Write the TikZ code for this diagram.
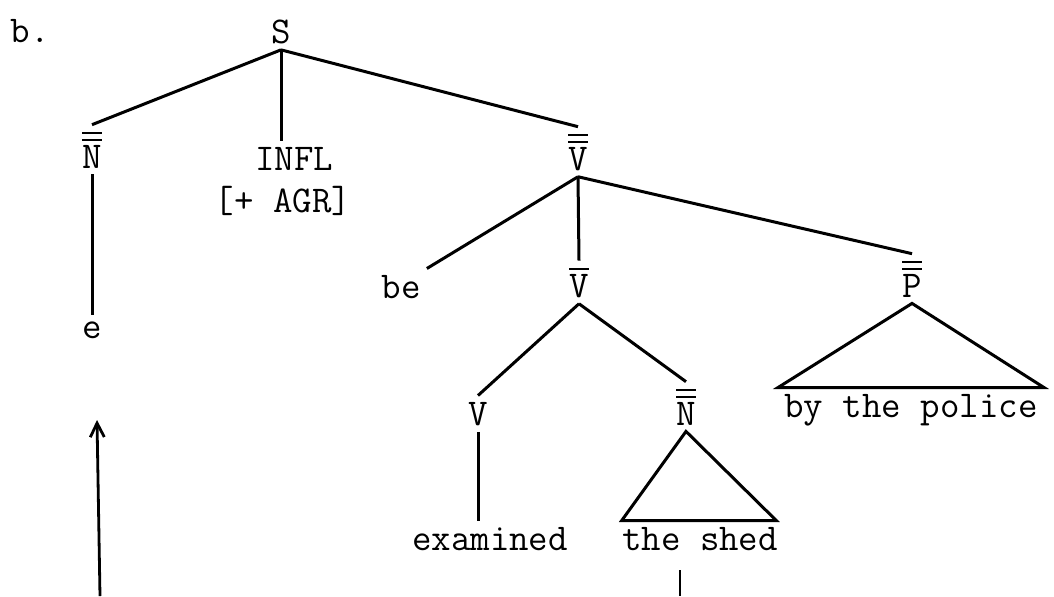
\documentclass[tikz,border=0pt]{standalone}
\usepackage{amsmath}
\usetikzlibrary{arrows.meta}

% bar levels over a category label
\newcommand{\barone}[1]{$\overline{\mbox{#1}}$}
\newcommand{\bartwo}[1]{$\overline{\overline{\mbox{#1}}}$}

\tikzset{
    cat/.style={anchor=base, inner sep=3pt, font=\ttfamily\fontsize{18.9}{22}\selectfont},
    branch/.style={line width=1.5pt},
}

\begin{document}
\begin{tikzpicture}[x=0.5pt, y=-0.5pt]
    \useasboundingbox (0,0) rectangle (1054,596);

    % Example label
    \node[cat] (lbl) at (30,42) {b.};

    % Top level
    \node[cat] (S) at (281,43) {S};
    \node[cat] (Nsubj) at (92,168) {\bartwo{N}};
    \node[cat] (infl) at (294,170) {INFL};
    \node[cat] (agr) at (283,212) {[+ AGR]};
    \node[cat] (VP) at (578,170) {\bartwo{V}};
    \draw[branch] (S.south) -- (Nsubj.north);
    \draw[branch] (S.south) -- (S.south |- infl.north);
    \draw[branch] (S.south) -- (VP.north);

    % Empty subject
    \node[cat] (e) at (92,338) {e};
    \draw[branch] (Nsubj.south) -- (e.north);

    % Verb phrase
    \node[cat] (be) at (401,298) {be};
    \node[cat] (Vbar) at (579,297) {\barone{V}};
    \node[cat] (PP) at (912,297) {\bartwo{P}};
    \draw[branch] (VP.south) -- (be.north east);
    \draw[branch] (VP.south) -- (Vbar.north);
    \draw[branch] (VP.south) -- (PP.north);

    % By-phrase (triangle)
    \node[cat] (police) at (911,417) {by the police};
    \draw[branch] (PP.south) -- (police.north west) -- (police.north east) -- cycle;

    % V-bar
    \node[cat] (V) at (478,425) {V};
    \node[cat] (Nobj) at (686,425) {\bartwo{N}};
    \draw[branch] (Vbar.south) -- (V.north);
    \draw[branch] (Vbar.south) -- (Nobj.north);

    \node[cat] (examined) at (490,550) {examined};
    \draw[branch] (V.south) -- (V.south |- examined.north);

    \node[cat] (shed) at (700,550) {the shed};
    \draw[branch] (Nobj.south) -- ([xshift=3pt]shed.north west) -- ([xshift=-4pt]shed.north east) -- cycle;

    % Movement lines
    \coordinate (traceFoot) at (100,596);
    \coordinate (traceTip) at (97,420);
    \draw[line width=1.4pt, -{Straight Barb[length=7pt, width=7pt]}] (traceFoot) -- (traceTip);
    \coordinate (objTop) at (680,570);
    \coordinate (objFoot) at (680,596);
    \draw[line width=1.4pt] (objTop) -- (objFoot);
\end{tikzpicture}
\end{document}
